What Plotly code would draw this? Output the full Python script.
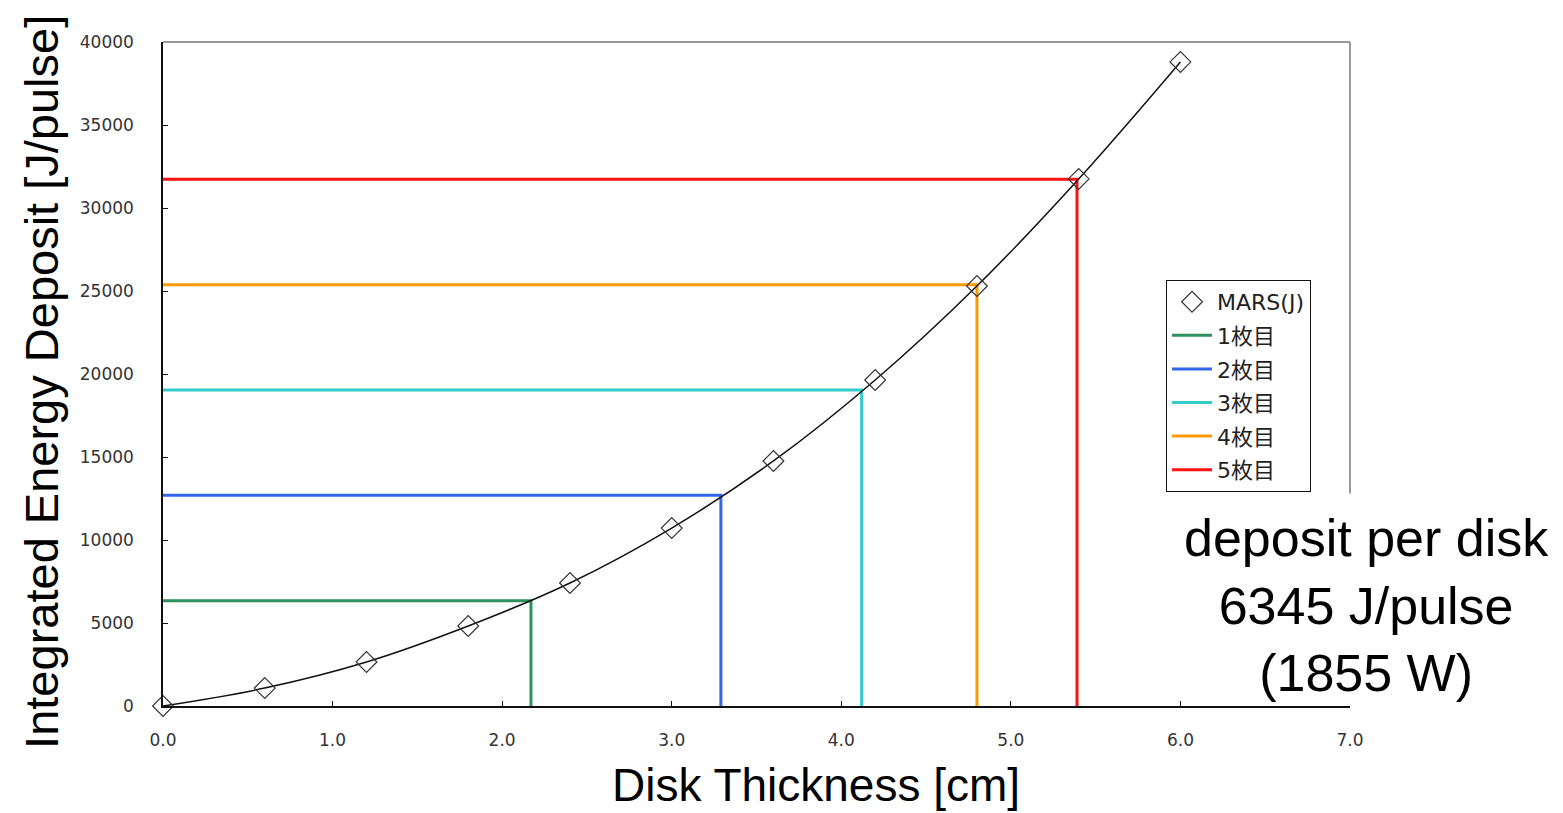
import plotly.graph_objects as go

# MARS integrated energy deposit vs disk thickness
thickness_cm = [0.0, 0.6, 1.2, 1.8, 2.4, 3.0, 3.6, 4.2, 4.8, 5.4, 6.0]
mars_deposit = [0, 1080, 2650, 4820, 7410, 10720, 14760, 19640, 25300, 31750, 38800]

# disk boundaries: cumulative deposit (6345 J/pulse per disk) and thickness where reached
disk_names = ["1枚目", "2枚目", "3枚目", "4枚目", "5枚目"]
disk_deposit = [6345, 12690, 19035, 25380, 31725]
disk_thickness = [2.17, 3.29, 4.12, 4.80, 5.39]
disk_colors = ["#2e9160", "#3366ee", "#33cccc", "#ff9900", "#ff1111"]

x_ticks = [0, 1, 2, 3, 4, 5, 6, 7]
x_tick_labels = ["0.0", "1.0", "2.0", "3.0", "4.0", "5.0", "6.0", "7.0"]
y_ticks = [0, 5000, 10000, 15000, 20000, 25000, 30000, 35000, 40000]

fig = go.Figure()

for i, (name, yv, xv, col) in enumerate(zip(disk_names, disk_deposit, disk_thickness, disk_colors)):
    fig.add_trace(go.Scatter(
        x=[0, xv, xv], y=[yv, yv, 0], mode="lines", name=name,
        line=dict(color=col, width=3), legendgroup=name, legendrank=2 + i,
        cliponaxis=False, hoverinfo="skip"))

fig.add_trace(go.Scatter(
    x=thickness_cm, y=mars_deposit, mode="lines", line=dict(color="#111", width=1.5, shape="spline"),
    showlegend=False, hoverinfo="skip"))

fig.add_trace(go.Scatter(
    x=thickness_cm, y=mars_deposit, mode="markers", name="MARS(J)",
    marker=dict(symbol="diamond-open", size=16, color="#333", line=dict(width=1.2, color="#333")),
    legendgroup="mars", legendrank=1, cliponaxis=False))

fig.update_layout(
    width=1555, height=805,
    margin=dict(l=155, r=213, t=34, b=107),
    paper_bgcolor="white", plot_bgcolor="white",
    showlegend=True,
    legend=dict(x=0.967, y=0.642, xanchor="right", yanchor="top",
                bgcolor="white", bordercolor="#111", borderwidth=1.2,
                font=dict(family="DejaVu Sans, Noto Sans CJK JP", size=22, color="#222"),
                traceorder="grouped", tracegroupgap=2, itemwidth=40),
    font=dict(family="Liberation Sans", color="#000"),
)

fig.update_xaxes(
    range=[0, 7], tickvals=x_ticks, ticktext=x_tick_labels,
    ticks="inside", ticklen=5, tickcolor="#111", showgrid=False, zeroline=False,
    showline=True, linecolor="#111", linewidth=1.5,
    tickfont=dict(family="DejaVu Sans", size=17, color="#333"),
    ticklabelstandoff=18)

fig.update_yaxes(
    range=[0, 40000], tickvals=y_ticks, tickformat="d",
    ticks="inside", ticklen=5, tickcolor="#111", showgrid=False, zeroline=False,
    showline=True, linecolor="#111", linewidth=1.5,
    tickfont=dict(family="DejaVu Sans", size=17, color="#333"),
    ticklabelstandoff=24)

# axis titles
fig.add_annotation(xref="paper", yref="paper", x=0.55, y=-0.119, xanchor="center", yanchor="middle",
                   text="Disk Thickness [cm]", showarrow=False,
                   font=dict(family="Liberation Sans", size=46, color="#000"))
fig.add_annotation(xref="paper", yref="paper", x=-0.102, y=0.488, xanchor="center", yanchor="middle",
                   text="Integrated Energy Deposit [J/pulse]", showarrow=False, textangle=-90,
                   font=dict(family="Liberation Sans", size=47, color="#000"))

# grey top and right frame
fig.add_shape(type="line", xref="x domain", yref="y domain", x0=0, x1=1, y0=1, y1=1,
              line=dict(color="#999", width=2))
fig.add_shape(type="line", xref="x domain", yref="y domain", x0=1, x1=1, y0=0.32, y1=1,
              line=dict(color="#999", width=2))

fig.add_annotation(
    xref="paper", yref="paper", x=1.0135, y=0.152, xanchor="center", yanchor="middle",
    text="deposit per disk<br>6345 J/pulse<br>(1855 W)", showarrow=False, align="center",
    font=dict(family="Liberation Sans", size=52, color="#000"))

fig.write_html("out.html")
